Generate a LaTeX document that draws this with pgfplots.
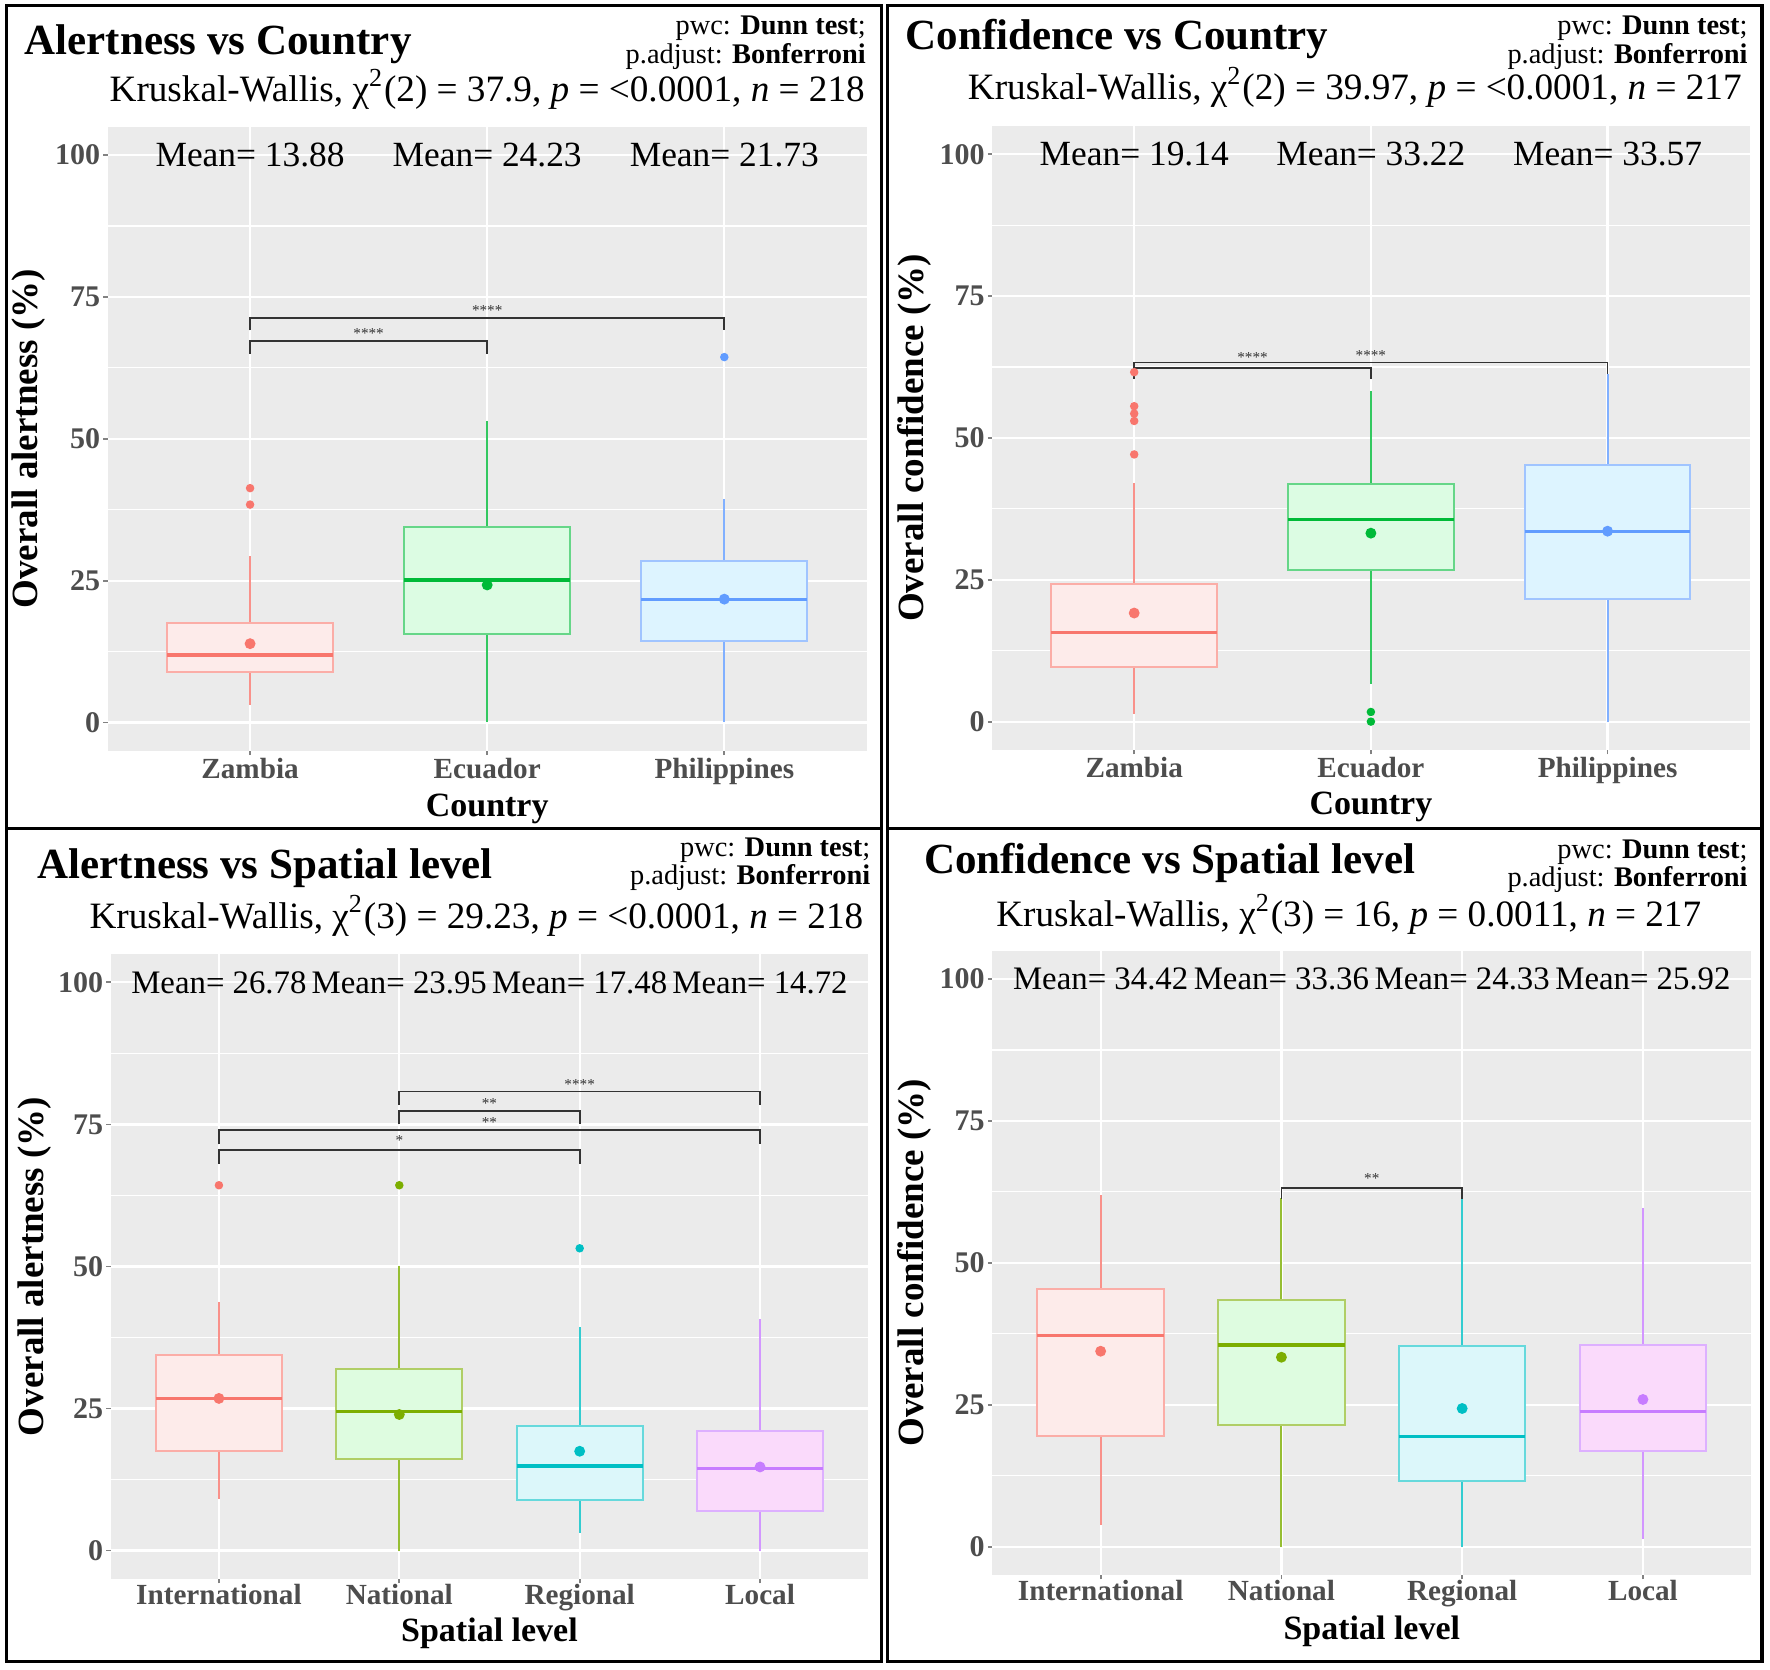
\documentclass[border=0pt]{standalone}
\usepackage{fontspec}
\setmainfont{Liberation Serif}
\usepackage{pgfplots}
\pgfplotsset{compat=1.18}
\usepgfplotslibrary{statistics}

\definecolor{ggpanel}{HTML}{EBEBEB}
\definecolor{ggtick}{HTML}{4D4D4D}
\definecolor{brk}{HTML}{333333}
\definecolor{cR}{HTML}{F8766D}
\definecolor{cG}{HTML}{00BA38}
\definecolor{cB}{HTML}{619CFF}
\definecolor{cG4}{HTML}{7CAE00}
\definecolor{cC4}{HTML}{00BFC4}
\definecolor{cP4}{HTML}{C77CFF}
\definecolor{fR}{HTML}{FDEBEA}
\definecolor{fG}{HTML}{DCFCE3}
\definecolor{fB}{HTML}{DDF4FF}
\definecolor{fG4}{HTML}{DEFCE0}
\definecolor{fC4}{HTML}{DCF7FA}
\definecolor{fP4}{HTML}{FADAFB}

\newcommand{\fsz}[1]{\fontsize{#1}{#1}\selectfont}

\pgfplotsset{
  ggaxis/.style={
    scale only axis, anchor=south west,
    ymin=-5, ymax=105,
    axis background/.style={fill=ggpanel},
    axis line style={draw=none},
    ytick={0,25,50,75,100},
    minor ytick={12.5,37.5,62.5,87.5},
    xmajorgrids, ymajorgrids, yminorgrids,
    major grid style={white, line width=0.55pt},
    minor grid style={white, line width=0.3pt},
    tick pos=left, tick align=outside,
    major tick length=1.1pt, minor tick length=0pt,
    tick style={ggtick!70, line width=0.45pt},
    /pgf/number format/assume math mode=true,
    yticklabel style={font=\bfseries\fsz{7.5}, text=ggtick, inner sep=0.6pt},
    xticklabel style={font=\bfseries\fsz{7.3}, text=ggtick, inner sep=0.6pt},
    xlabel style={font=\bfseries\fsz{8.5}, anchor=base},
    ylabel style={font=\bfseries\fsz{9.25}, anchor=center},
    boxplot/draw direction=y,
    clip=false,
  },
  ggbox/.style 2 args={draw=#1!60!white, fill=#2, line width=0.5pt,
    boxplot/every whisker/.style={draw=#1!80!white, line width=0.5pt},
    boxplot/every median/.style={draw=#1, line width=0.8pt}},
  bracket/.style={brk, line width=0.45pt},
}

% color, fill, position, lower whisker, lower quartile, median, upper quartile, upper whisker
\newcommand{\gbox}[8]{\addplot[ggbox={#1}{#2}, boxplot prepared={draw position=#3,
  lower whisker=#4, lower quartile=#5, median=#6, upper quartile=#7, upper whisker=#8,
  box extend=0.7, whisker extend=0}] coordinates {};}
\newcommand{\gmean}[3]{\addplot[only marks, mark=*, mark size=1.15pt, draw=#1, fill=#1] coordinates {(#2,#3)};}
\newcommand{\gout}[2]{\addplot[only marks, mark=*, mark size=0.85pt, draw=#1, fill=#1] coordinates {#2};}
\newcommand{\sig}[3]{\node[font=\fsz{3.8}, text=brk] at (axis cs:#1,#2) {#3};}

\begin{document}
\begin{tikzpicture}
\useasboundingbox (0,0) rectangle (442.5pt,417.5pt);

% ---------------- Alertness vs Country ----------------
\begin{axis}[ggaxis, at={(26.95pt,229.8pt)}, width=189.7pt, height=156pt,
  xmin=0.4, xmax=3.6, xtick={1,2,3}, xticklabels={Zambia,Ecuador,Philippines},
  xlabel={Country}, ylabel={Overall alertness (\%)},
  xlabel style={at={(axis description cs:0.5,-0.1058)}},
  ylabel style={at={(axis description cs:-0.1046,0.5)}}]
\gbox{cR}{fR}{1}{3.1}{8.9}{11.9}{17.6}{29.4}
\gbox{cG}{fG}{2}{0}{15.5}{25.1}{34.4}{53.2}
\gbox{cB}{fB}{3}{0}{14.3}{21.6}{28.5}{39.4}
\gout{cR}{(1,41.3) (1,38.4)}
\gout{cB}{(3,64.4)}
\gmean{cR}{1}{13.88}
\gmean{cG}{2}{24.23}
\gmean{cB}{3}{21.73}
\addplot[bracket] coordinates {(1,65.0) (1,67.2) (2,67.2) (2,65.0)};
\addplot[bracket] coordinates {(1,69.1) (1,71.3) (3,71.3) (3,69.1)};
\sig{1.5}{68.5}{****}
\sig{2}{72.6}{****}
\node[font=\fsz{8.85}] at (axis cs:1,100) {Mean= 13.88};
\node[font=\fsz{8.85}] at (axis cs:2,100) {Mean= 24.23};
\node[font=\fsz{8.85}] at (axis cs:3,100) {Mean= 21.73};
\end{axis}

% ---------------- Confidence vs Country ----------------
\begin{axis}[ggaxis, at={(248.05pt,230pt)}, width=189.35pt, height=156pt,
  xmin=0.4, xmax=3.6, xtick={1,2,3}, xticklabels={Zambia,Ecuador,Philippines},
  xlabel={Country}, ylabel={Overall confidence (\%)},
  xlabel style={at={(axis description cs:0.5,-0.104)}},
  ylabel style={at={(axis description cs:-0.103,0.5)}}]
\gbox{cR}{fR}{1}{1.4}{9.6}{15.7}{24.2}{42.1}
\gbox{cG}{fG}{2}{6.7}{26.7}{35.6}{41.9}{58.2}
\gbox{cB}{fB}{3}{0}{21.6}{33.5}{45.2}{61.3}
\gout{cR}{(1,61.6) (1,55.6) (1,54.3) (1,53.0) (1,47.1)}
\gout{cG}{(2,1.7) (2,0)}
\gmean{cR}{1}{19.14}
\gmean{cG}{2}{33.22}
\gmean{cB}{3}{33.57}
\addplot[bracket] coordinates {(1,60.4) (1,62.3) (2,62.3) (2,60.4)};
\addplot[bracket] coordinates {(1,61.3) (1,63.3) (3,63.3) (3,61.3)};
\sig{1.5}{64.1}{****}
\sig{2}{64.6}{****}
\node[font=\fsz{8.85}] at (axis cs:1,100) {Mean= 19.14};
\node[font=\fsz{8.85}] at (axis cs:2,100) {Mean= 33.22};
\node[font=\fsz{8.85}] at (axis cs:3,100) {Mean= 33.57};
\end{axis}

% ---------------- Alertness vs Spatial level ----------------
\begin{axis}[ggaxis, at={(27.675pt,22.75pt)}, width=189.4pt, height=156.25pt,
  xmin=0.4, xmax=4.6, xtick={1,2,3,4}, xticklabels={International,National,Regional,Local},
  xlabel={Spatial level}, ylabel={Overall alertness (\%)},
  xticklabel style={yshift=0.6pt},
  xlabel style={at={(axis description cs:0.5,-0.1003)}},
  ylabel style={at={(axis description cs:-0.101,0.5)}}]
\gbox{cR}{fR}{1}{9.1}{17.6}{26.8}{34.5}{43.8}
\gbox{cG4}{fG4}{2}{0}{16.2}{24.5}{31.9}{50.0}
\gbox{cC4}{fC4}{3}{3.1}{8.9}{14.9}{21.9}{39.4}
\gbox{cP4}{fP4}{4}{0}{7.0}{14.5}{21.1}{40.7}
\gout{cR}{(1,64.3)}
\gout{cG4}{(2,64.3)}
\gout{cC4}{(3,53.2)}
\gmean{cR}{1}{26.78}
\gmean{cG4}{2}{23.95}
\gmean{cC4}{3}{17.48}
\gmean{cP4}{4}{14.72}
\addplot[bracket] coordinates {(2,78.4) (2,80.8) (4,80.8) (4,78.4)};
\addplot[bracket] coordinates {(2,75.0) (2,77.3) (3,77.3) (3,75.0)};
\addplot[bracket] coordinates {(1,71.5) (1,74.0) (4,74.0) (4,71.5)};
\addplot[bracket] coordinates {(1,68.1) (1,70.5) (3,70.5) (3,68.1)};
\sig{3}{82.1}{****}
\sig{2.5}{78.6}{**}
\sig{2.5}{75.3}{**}
\sig{2}{72.1}{*}
\node[font=\fsz{8.2}] at (axis cs:1,100) {Mean= 26.78};
\node[font=\fsz{8.2}] at (axis cs:2,100) {Mean= 23.95};
\node[font=\fsz{8.2}] at (axis cs:3,100) {Mean= 17.48};
\node[font=\fsz{8.2}] at (axis cs:4,100) {Mean= 14.72};
\end{axis}

% ---------------- Confidence vs Spatial level ----------------
\begin{axis}[ggaxis, at={(248.05pt,23.75pt)}, width=189.8pt, height=156.1pt,
  xmin=0.4, xmax=4.6, xtick={1,2,3,4}, xticklabels={International,National,Regional,Local},
  xlabel={Spatial level}, ylabel={Overall confidence (\%)},
  xticklabel style={yshift=0.6pt},
  xlabel style={at={(axis description cs:0.5,-0.103)}},
  ylabel style={at={(axis description cs:-0.1026,0.5)}}]
\gbox{cR}{fR}{1}{3.8}{19.5}{37.2}{45.3}{61.9}
\gbox{cG4}{fG4}{2}{0}{21.4}{35.5}{43.5}{61.5}
\gbox{cC4}{fC4}{3}{0}{11.5}{19.4}{35.4}{61.5}
\gbox{cP4}{fP4}{4}{1.3}{16.9}{23.8}{35.6}{59.7}
\gmean{cR}{1}{34.42}
\gmean{cG4}{2}{33.36}
\gmean{cC4}{3}{24.33}
\gmean{cP4}{4}{25.92}
\addplot[bracket] coordinates {(2,61.2) (2,63.2) (3,63.2) (3,61.2)};
\sig{2.5}{64.8}{**}
\node[font=\fsz{8.2}] at (axis cs:1,100) {Mean= 34.42};
\node[font=\fsz{8.2}] at (axis cs:2,100) {Mean= 33.36};
\node[font=\fsz{8.2}] at (axis cs:3,100) {Mean= 24.33};
\node[font=\fsz{8.2}] at (axis cs:4,100) {Mean= 25.92};
\end{axis}

% ---------------- titles and subtitles ----------------
\node[anchor=base west, font=\bfseries\fsz{10.75}, inner sep=0pt] at (5.95pt,403.75pt) {Alertness vs Country};
\node[anchor=base west, font=\bfseries\fsz{10.75}, inner sep=0pt] at (226.2pt,405pt) {Confidence vs Country};
\node[anchor=base west, font=\bfseries\fsz{10.75}, inner sep=0pt] at (9.225pt,197.925pt) {Alertness vs Spatial level};
\node[anchor=base west, font=\bfseries\fsz{10.75}, inner sep=0pt] at (230.85pt,199.175pt) {Confidence vs Spatial level};

\node[anchor=base east, font=\fsz{7.1}, inner sep=0pt] at (216.65pt,408.75pt) {pwc: \textbf{Dunn test};};
\node[anchor=base east, font=\fsz{7.1}, inner sep=0pt] at (216.65pt,401.675pt) {p.adjust: \textbf{Bonferroni}};
\node[anchor=base east, font=\fsz{7.1}, inner sep=0pt] at (437.1pt,408.75pt) {pwc: \textbf{Dunn test};};
\node[anchor=base east, font=\fsz{7.1}, inner sep=0pt] at (437.1pt,401.675pt) {p.adjust: \textbf{Bonferroni}};
\node[anchor=base east, font=\fsz{7.1}, inner sep=0pt] at (217.75pt,203.325pt) {pwc: \textbf{Dunn test};};
\node[anchor=base east, font=\fsz{7.1}, inner sep=0pt] at (217.75pt,196.25pt) {p.adjust: \textbf{Bonferroni}};
\node[anchor=base east, font=\fsz{7.1}, inner sep=0pt] at (437.1pt,202.925pt) {pwc: \textbf{Dunn test};};
\node[anchor=base east, font=\fsz{7.1}, inner sep=0pt] at (437.1pt,195.825pt) {p.adjust: \textbf{Bonferroni}};

\node[anchor=base, font=\fsz{9.3}, inner sep=0pt] at (121.8pt,392.075pt) {Kruskal-Wallis, χ\textsuperscript{2}(2) = 37.9, \textit{p} = <0.0001, \textit{n} = 218};
\node[anchor=base, font=\fsz{9.3}, inner sep=0pt] at (338.7pt,392.5pt) {Kruskal-Wallis, χ\textsuperscript{2}(2) = 39.97, \textit{p} = <0.0001, \textit{n} = 217};
\node[anchor=base, font=\fsz{9.3}, inner sep=0pt] at (119.1pt,185.425pt) {Kruskal-Wallis, χ\textsuperscript{2}(3) = 29.23, \textit{p} = <0.0001, \textit{n} = 218};
\node[anchor=base, font=\fsz{9.3}, inner sep=0pt] at (337.2pt,185.825pt) {Kruskal-Wallis, χ\textsuperscript{2}(3) = 16, \textit{p} = 0.0011, \textit{n} = 217};

% ---------------- panel frames ----------------
\draw[black, line width=0.9pt] (1.625pt,210.375pt) rectangle (220.375pt,416.125pt);
\draw[black, line width=0.9pt] (1.625pt,2.125pt) rectangle (220.375pt,210.375pt);
\draw[black, line width=0.9pt] (221.875pt,210.375pt) rectangle (440.5pt,416.125pt);
\draw[black, line width=0.9pt] (221.875pt,2.125pt) rectangle (440.5pt,210.375pt);
\end{tikzpicture}
\end{document}
